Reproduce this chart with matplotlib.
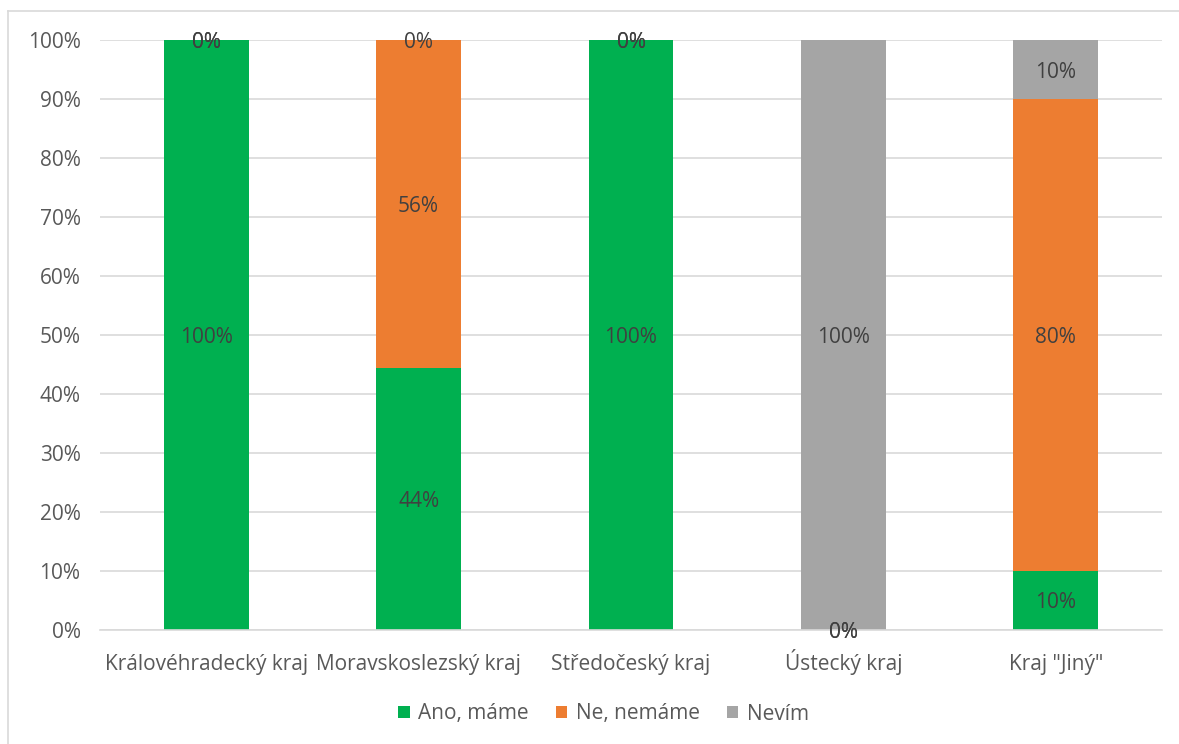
import matplotlib
matplotlib.use("Agg")
import matplotlib.pyplot as plt
from matplotlib.lines import Line2D
from matplotlib.patches import Patch

# Regions and answer shares (percent)
regions = ["Královéhradecký kraj", "Moravskoslezský kraj", "Středočeský kraj",
           "Ústecký kraj", "Kraj \"Jiný\""]
series_names = ["Ano, máme", "Ne, nemáme", "Nevím"]
ano = [100, 44.4, 100, 0, 10]
ne = [0, 55.6, 0, 0, 80]
nevim = [0, 0, 0, 100, 10]
colors = ["#00B050", "#ED7D31", "#A5A5A5"]
y_ticks = [0, 10, 20, 30, 40, 50, 60, 70, 80, 90, 100]

plt.rcParams["font.family"] = ["Open Sans", "DejaVu Sans"]
text_grey = "#595959"
label_grey = "#404040"
fs = 15

W, H = 1179, 744
fig = plt.figure(figsize=(W / 100, H / 100), dpi=100)
ax = fig.add_axes([100 / W, 1 - 630 / H, 1062 / W, 590 / H])

x = list(range(len(regions)))
bottom = [0] * len(regions)
for vals, name, col in zip([ano, ne, nevim], series_names, colors):
    ax.bar(x, vals, bottom=bottom, width=0.4, color=col, label=name, zorder=2)
    for xi, v, b in zip(x, vals, bottom):
        ax.text(xi, b + v / 2, f"{round(v)}%", ha="center", va="center_baseline",
                fontsize=fs, color=label_grey, zorder=3, clip_on=False)
    bottom = [b + v for b, v in zip(bottom, vals)]

ax.set_xlim(-0.5, len(regions) - 0.5)
ax.set_ylim(0, 100)
ax.set_yticks(y_ticks)
ax.set_yticklabels([f"{t}%" for t in y_ticks])
ax.set_xticks(x)
ax.set_xticklabels(regions, va="baseline")
ax.yaxis.grid(True, color="#D9D9D9", linewidth=1.2, zorder=0)
ax.set_axisbelow(True)
for side in ["top", "right", "left"]:
    ax.spines[side].set_visible(False)
ax.spines["bottom"].set_color("#D9D9D9")
ax.spines["bottom"].set_linewidth(1.2)
ax.tick_params(axis="both", length=0, labelsize=fs, colors=text_grey)
ax.tick_params(axis="y", pad=14)
ax.tick_params(axis="x", pad=29)

handles = [Patch(facecolor=c, edgecolor="none") for c in colors]
fig.legend(handles, series_names, loc="center",
           bbox_to_anchor=(603.5 / W, 1 - 714 / H),
           ncol=3, frameon=False, fontsize=fs, labelcolor=text_grey,
           handlelength=0.55, handleheight=0.55, handletextpad=0.4, columnspacing=1.3)

# Chart area outline
fig.add_artist(Line2D([8 / W, 8 / W], [0, 1 - 11 / H], transform=fig.transFigure,
                      color="#D9D9D9", linewidth=1.2))
fig.add_artist(Line2D([8 / W, 1], [1 - 11 / H, 1 - 11 / H], transform=fig.transFigure,
                      color="#D9D9D9", linewidth=1.2))

fig.savefig("out.png", dpi=100, facecolor="white")
